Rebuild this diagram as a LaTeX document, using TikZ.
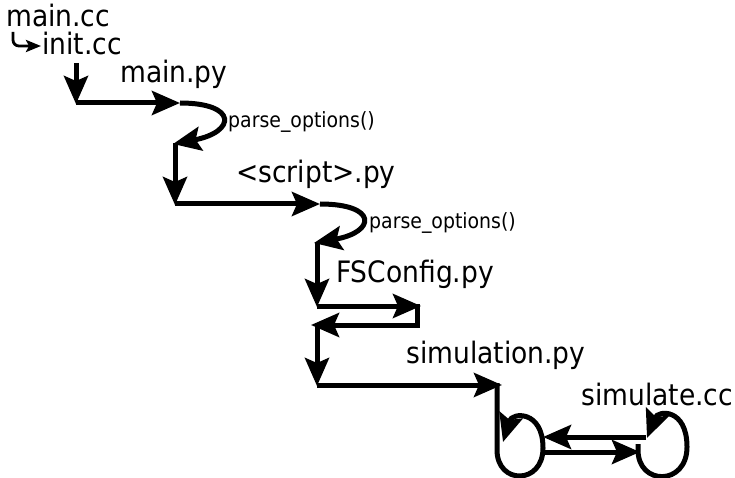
\documentclass[tikz,border=0pt]{standalone}
\usepackage{fontspec}
\newfontfamily\labelfont{DejaVu Sans Condensed}
\usetikzlibrary{arrows.meta}
\begin{document}
\begin{tikzpicture}[x=1pt,y=-1pt,
  flow/.style={line width=5pt, -{Stealth[length=28pt,width=24pt,inset=5pt]}},
  hookline/.style={line width=2.8pt, -{Stealth[length=15pt,width=12pt,inset=3pt]}},
  file/.style={anchor=base west, inner sep=0pt, font=\labelfont\fontsize{29.5}{32}\selectfont},
  call/.style={anchor=base west, inner sep=0pt, font=\labelfont\fontsize{21}{24}\selectfont}]
\useasboundingbox (0,0) rectangle (735,478);

% labels
\node[file] (maincc) at (6,27) {main.cc};
\node[file] (initcc) at (42,55) {init.cc};
\node[file] (mainpy) at (120,83) {main.py};
\node[call] (parse1) at (228,128) {parse\_options()};
\node[file] (script) at (236,183) {<script>.py};
\node[call] (parse2) at (369,228) {parse\_options()};
\node[file] (fsconfig) at (336,282) {FSConfig.py};
\node[file] (simpy) at (406,363) {simulation.py};
\node[file] (simcc) at (581,405) {simulate.cc};

% waypoints of the call flow
\coordinate (h0) at (13,32);
\coordinate (h1) at (13,40);
\coordinate (h2) at (41,46);
\coordinate (a0) at (76,63);
\coordinate (a1) at (76,104);
\coordinate (a2) at (180,103);
\coordinate (b0) at (173,144);
\coordinate (b1) at (175,205);
\coordinate (b2) at (320,204);
\coordinate (c0) at (314,243);
\coordinate (c1) at (317,307);
\coordinate (c2) at (421,306);
\coordinate (c3) at (417,304);
\coordinate (c4) at (417,325);
\coordinate (c5) at (311,325);
\coordinate (d0) at (317,323);
\coordinate (d1) at (317,386);
\coordinate (d2) at (502,385);
\coordinate (e0) at (497,383);
\coordinate (e1) at (497,450);
\coordinate (e2) at (543,448);
\coordinate (e3) at (503,442);
\coordinate (f0) at (646,437);
\coordinate (f1) at (543,437);
\coordinate (g0) at (543,452);
\coordinate (g1) at (640,452);
\coordinate (k0) at (638,444);
\coordinate (k1) at (638,450);
\coordinate (k2) at (687,447);
\coordinate (k3) at (647,438);

% main.cc -> init.cc
\draw[hookline] (h0) -- (h1) to[out=-90,in=180] ++(6,6) -- (h2);

% init.cc -> main.py
\draw[flow] (a0) -- (a1);
\draw[flow] (76,103) -- (a2);
\draw[flow] (a2) .. controls (238,103) and (236,132) .. (b0);

% main.py -> <script>.py
\draw[flow] (175,143) -- (b1);
\draw[flow] (175,204) -- (b2);
\draw[flow] (b2) .. controls (378,204) and (376,232) .. (c0);

% <script>.py -> FSConfig.py and back
\draw[flow] (317,242) -- (c1);
\draw[flow] (317,306) -- (c2);
\draw[flow] (c3) -- (c4) -- (c5);

% -> simulation.py
\draw[flow] (d0) -- (d1);
\draw[flow] (317,385) -- (d2);
\draw[flow] (e0) -- (e1) .. controls (497,485) and (543,485) .. (e2)
  .. controls (543,410) and (512,412) .. (e3);

% simulation.py <-> simulate.cc
\draw[flow] (f0) -- (f1);
\draw[flow] (g0) -- (g1);
\draw[flow] (k0) -- (k1) .. controls (638,486) and (687,486) .. (k2)
  .. controls (687,408) and (658,410) .. (k3);
\end{tikzpicture}
\end{document}
